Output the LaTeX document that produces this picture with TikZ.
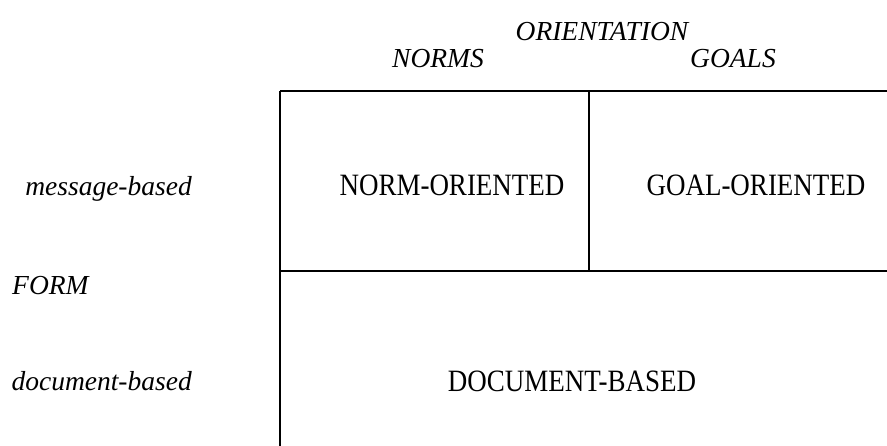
\documentclass[tikz,border=0pt]{standalone}
\usepackage{fontspec}
\setmainfont{Liberation Serif}

\tikzset{
  cell/.style={font=\fontsize{27}{30}\selectfont, inner sep=0pt, anchor=base},
  axislabel/.style={font=\fontsize{27.5}{30}\selectfont\itshape, inner sep=0pt, anchor=base},
  rule/.style={line width=1.6pt}
}

\begin{document}
\begin{tikzpicture}[x=1pt,y=-1pt]
\useasboundingbox (0,0) rectangle (887,446);

% STEP 1: corners of the grid (the right side and the bottom run off the page).
\coordinate (TL) at (280,91);
\coordinate (TR) at (887,91);
\coordinate (TM) at (589,91);
\coordinate (ML) at (280,271);
\coordinate (MM) at (589,271);
\coordinate (MR) at (887,271);
\coordinate (BL) at (280,446);

% STEP 2: the lines of the grid.
\draw[rule] (TL) -- (TR);
\draw[rule] (TL) -- (BL);
\draw[rule] (TM) -- (MM);
\draw[rule] (ML) -- (MR);

% STEP 3: the two axes.
\node[axislabel] (orient) at (602,41) {ORIENTATION};
\node[axislabel] (norms) at (438,68) {NORMS};
\node[axislabel] (goals) at (733,68) {GOALS};
\node[axislabel, anchor=base east] (msg) at (192,196) {message-based};
\node[axislabel, anchor=base west] (form) at (12,295) {FORM};
\node[axislabel, anchor=base east] (doc) at (192,391) {document-based};

% STEP 4: the cells.
\node[cell] (normcell) at (452,196) {\scalebox{1}[1.15]{NORM-ORIENTED}};
\node[cell] (goalcell) at (756,196) {\scalebox{1}[1.15]{GOAL-ORIENTED}};
\node[cell] (doccell) at (572,392) {\scalebox{1}[1.15]{DOCUMENT-BASED}};

\end{tikzpicture}
\end{document}
